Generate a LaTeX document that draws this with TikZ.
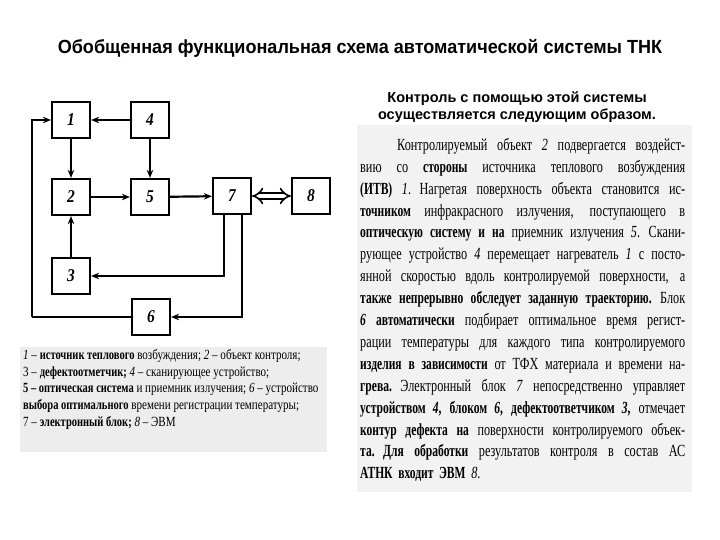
\documentclass[tikz,border=0pt]{standalone}
\usepackage{fontspec}
\setmainfont{Liberation Serif}
\newfontfamily\narrowserif[FakeStretch=0.72]{Liberation Serif}
\newfontfamily\darkserif[FakeStretch=0.68]{Liberation Serif}
\newfontfamily\legendserif[FakeStretch=0.79]{Liberation Serif}
\newfontfamily\legenddark[FakeStretch=0.75]{Liberation Serif}
\newfontfamily\blockserif[FakeStretch=0.86]{Liberation Serif}
\newfontfamily\narrowsans[FakeStretch=0.95]{Liberation Sans}
\newfontfamily\plainsans{Liberation Sans}
\usepackage{tikz}
\usetikzlibrary{arrows.meta, positioning}

\tikzstyle{block} = [rectangle, draw=black, line width=2.2pt, minimum width=38pt,
 minimum height=36pt, inner sep=0pt,
 font=\blockserif\bfseries\itshape\fontsize{18}{18}\selectfont]
\tikzstyle{arrow} = [line width=2.2pt, -{Stealth[length=8pt, width=6.5pt]}]
\tikzstyle{link} = [line width=2.2pt]
\tikzstyle{duplex} = [double, double distance=4pt, line width=1.6pt,
 {Implies}-{Implies}]
\newlength{\bodywidth}
\setlength{\bodywidth}{325pt}
\newcommand{\jline}[1]{\leavevmode\hbox to\bodywidth{\spaceskip=3pt plus 1fil\relax #1}}
\newcommand{\dk}[1]{{\darkserif\bfseries #1}}
\newcommand{\dkl}[1]{{\legenddark\bfseries #1}}

\begin{document}
\begin{tikzpicture}[x=1pt, y=-1pt]
\useasboundingbox (0,0) rectangle (720,540);
% headings
\node(title) at (360,48) {\narrowsans\bfseries\fontsize{19}{19}\selectfont
 Обобщенная функциональная схема автоматической системы ТНК};
\node(subtitle) [align=center, font=\plainsans\bfseries\fontsize{14.5}{17.5}\selectfont]
 at (517,107) {Контроль с помощью этой системы\\осуществляется следующим образом.};
% blocks
\node(b1) [block] at (71,120) {1};
\node(b4) [block] at (150,120) {4};
\node(b2) [block] at (71,197) {2};
\node(b5) [block] at (150,197) {5};
\node(b7) [block] at (232,196) {7};
\node(b8) [block] at (311,196) {8};
\node(b3) [block] at (71,276) {3};
\node(b6) [block] at (151,317) {6};
\coordinate(left_turn) at (32,317);
\draw[arrow] (b4) -- (b1);
\draw[arrow] (b1) -- (b2);
\draw[arrow] (b4) -- (b5);
\draw[arrow] (b2) -- (b5);
\draw[arrow] (b5) -- (b7);
\draw[duplex] (b7) -- (b8);
\draw[arrow] (b3) -- (b2);
\draw[arrow] ([xshift=-8pt]b7.south) |- (b3.east);
\draw[arrow] ([xshift=10pt]b7.south) |- (b6.east);
\draw[link] (b6.west) -- (left_turn);
\draw[arrow] (left_turn) |- (b1.west);
% legend
\fill[black!7] (20,347) rectangle (327,452);
\node(legend) [anchor=north west, inner sep=0pt, align=left,
 font=\legendserif\fontsize{14}{16.8}\selectfont] at (23,349) {%
\textit{1} – \dkl{источник теплового} возбуждения; \textit{2} – объект контроля;\\
3 – \dkl{дефектоотметчик;} \textit{4} – сканирующее устройство;\\
\dkl{5 – оптическая система} и приемник излучения; \textit{6} – устройство\\
\dkl{выбора оптимального} времени регистрации температуры;\\
7 – \dkl{электронный блок;} \textit{8} – ЭВМ};
% description
\fill[black!5] (357,125) rectangle (692,492);
\node(body) [anchor=north west, inner sep=0pt, text width=\bodywidth, align=left,
 font=\narrowserif\fontsize{17}{21.9}\selectfont] at (360,138) {%
\jline{\hspace*{37pt}Контролируемый объект \textit{2} подвергается воздейст-}\\
\jline{вию со \dk{стороны} источника теплового возбуждения}\\
\jline{\dk{(ИТВ)} \textit{1}. Нагретая поверхность объекта становится ис-}\\
\jline{\dk{точником} инфракрасного излучения, поступающего в}\\
\jline{\dk{оптическую систему и на} приемник излучения \textit{5}. Скани-}\\
\jline{рующее устройство \textit{4} перемещает нагреватель \textit{1} с посто-}\\
\jline{янной скоростью вдоль контролируемой поверхности, а}\\
\jline{\dk{также непрерывно обследует заданную траекторию.} Блок}\\
\jline{\dk{\textit{6} автоматически} подбирает оптимальное время регист-}\\
\jline{рации температуры для каждого типа контролируемого}\\
\jline{\dk{изделия в зависимости} от ТФХ материала и времени на-}\\
\jline{\dk{грева.} Электронный блок \textit{7} непосредственно управляет}\\
\jline{\dk{устройством \textit{4}, блоком \textit{6}, дефектоответчиком \textit{3},} отмечает}\\
\jline{\dk{контур дефекта на} поверхности контролируемого объек-}\\
\jline{\dk{та. Для обработки} результатов контроля в состав АС}\\
\dk{АТНК входит ЭВМ} \textit{8}.};
\end{tikzpicture}
\end{document}
